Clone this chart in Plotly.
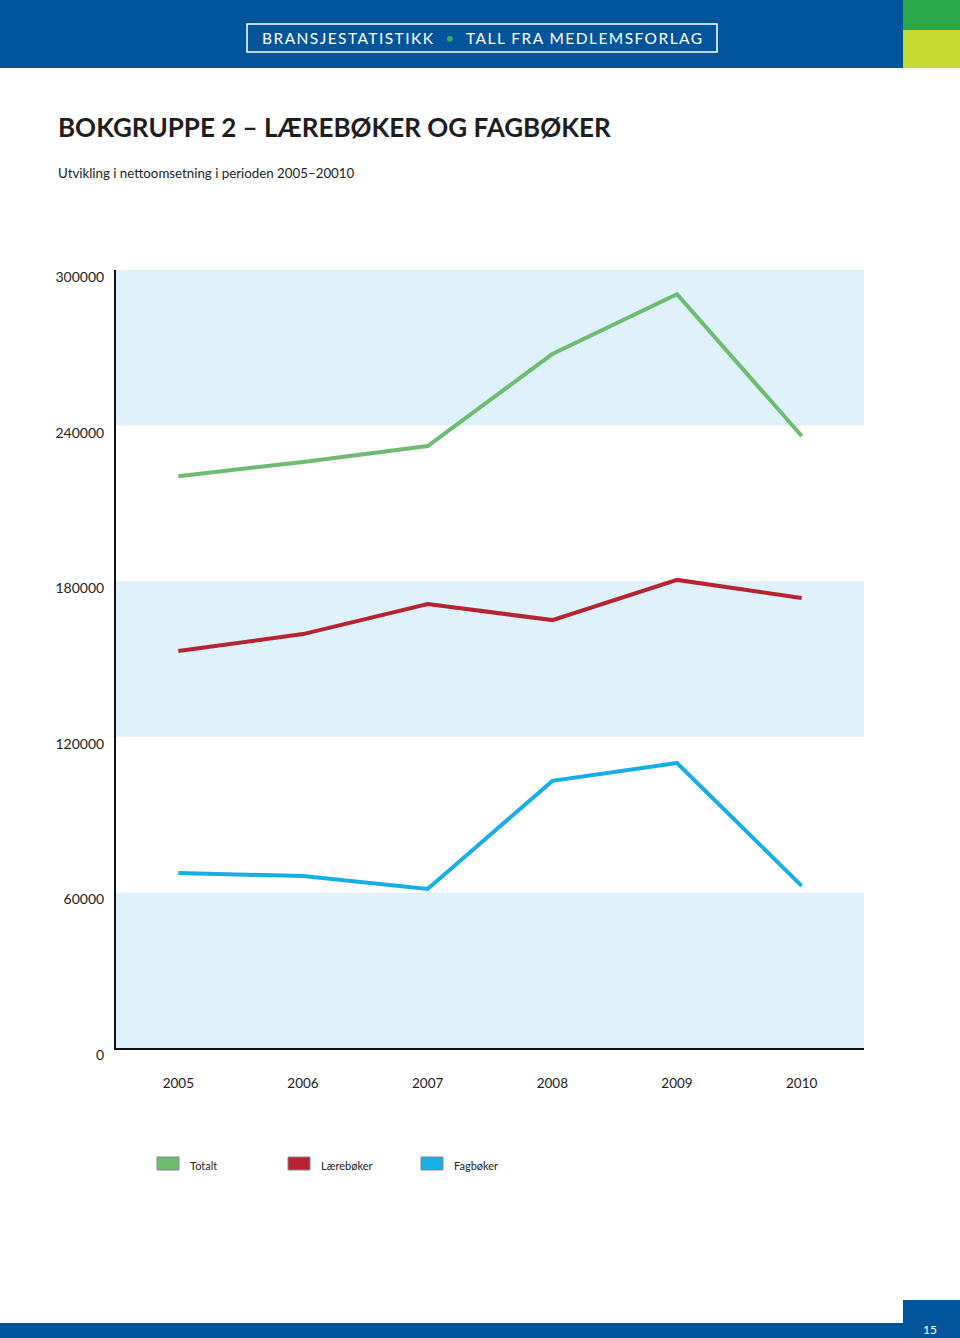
import plotly.graph_objects as go

years = ["2005", "2006", "2007", "2008", "2009", "2010"]
totalt = [220500, 226000, 232100, 267600, 290700, 236000]
laereboker = [153100, 159600, 171200, 165000, 180500, 173500]
fagboker = [67500, 66300, 61300, 103000, 109900, 62500]
series_names = ["Totalt", "Lærebøker", "Fagbøker"]
series_colors = ["#6cbd70", "#b8232f", "#16aee6"]
y_ticks = [0, 60000, 120000, 180000, 240000, 300000]

W, H = 960, 1338
L, R, T, B = 116, 96, 270, 290
FONT = "Lato"

fig = go.Figure()
for name, vals, col in zip(series_names, [totalt, laereboker, fagboker], series_colors):
    fig.add_trace(go.Scatter(x=years, y=vals, mode="lines", name=name,
                             line=dict(color=col, width=4), showlegend=False))

shapes = []
# alternating bands
for i in range(0, len(y_ticks) - 1, 2):
    shapes.append(dict(type="rect", xref="paper", yref="y", x0=0, x1=1,
                       y0=y_ticks[i], y1=y_ticks[i + 1], fillcolor="#dff1fb",
                       line=dict(width=0), layer="below"))

def px(xp):
    return (xp - L) / (W - L - R)

def py(yp):
    return (H - B - yp) / (H - T - B)

# header
shapes.append(dict(type="rect", xref="paper", yref="paper", x0=px(0), x1=px(960), y0=py(68), y1=py(0),
                   fillcolor="#02559b", line=dict(width=0), layer="below"))
shapes.append(dict(type="rect", xref="paper", yref="paper", x0=px(903), x1=px(960), y0=py(30), y1=py(0),
                   fillcolor="#2aa84a", line=dict(width=0)))
shapes.append(dict(type="rect", xref="paper", yref="paper", x0=px(903), x1=px(960), y0=py(68), y1=py(30),
                   fillcolor="#c4d932", line=dict(width=0)))
shapes.append(dict(type="rect", xref="paper", yref="paper", x0=px(247), x1=px(717), y0=py(52), y1=py(24),
                   fillcolor="rgba(0,0,0,0)", line=dict(width=1.5, color="white")))
# footer
shapes.append(dict(type="rect", xref="paper", yref="paper", x0=px(0), x1=px(960), y0=py(1338), y1=py(1323),
                   fillcolor="#02559b", line=dict(width=0)))
shapes.append(dict(type="rect", xref="paper", yref="paper", x0=px(903), x1=px(960), y0=py(1338), y1=py(1300),
                   fillcolor="#02559b", line=dict(width=0)))

annotations = [
    dict(text="<span style='letter-spacing:1.45px'>BRANSJESTATISTIKK  <span style='color:#2db34a'>•</span>  TALL FRA MEDLEMSFORLAG</span>",
         xref="paper", yref="paper", x=px(482), y=py(38), xanchor="center", yanchor="middle",
         showarrow=False, font=dict(family=FONT, size=15.5, color="white")),
    dict(text="<b>BOKGRUPPE 2 – LÆREBØKER OG FAGBØKER</b>", xref="paper", yref="paper",
         x=px(56), y=py(127), xanchor="left", yanchor="middle", showarrow=False,
         font=dict(family=FONT, size=26, color="#1e1e1e")),
    dict(text="Utvikling i nettoomsetning i perioden 2005–20010", xref="paper", yref="paper",
         x=px(56), y=py(173), xanchor="left", yanchor="middle", showarrow=False,
         font=dict(family=FONT, size=13.3, color="#222222")),
    dict(text="15", xref="paper", yref="paper", x=px(930), y=py(1329), xanchor="center", yanchor="middle",
         showarrow=False, font=dict(family=FONT, size=12, color="white")),
]

# legend
leg_x = [157, 288, 421]
for name, col, lx in zip(series_names, series_colors, leg_x):
    shapes.append(dict(type="rect", xref="paper", yref="paper", x0=px(lx), x1=px(lx + 22),
                       y0=py(1170), y1=py(1157), fillcolor=col, line=dict(width=1, color="#888888")))
    annotations.append(dict(text=name, xref="paper", yref="paper", x=px(lx + 31), y=py(1165),
                            xanchor="left", yanchor="middle", showarrow=False,
                            font=dict(family=FONT, size=11, color="#222222")))

fig.update_layout(
    width=W, height=H, margin=dict(l=L, r=R, t=T, b=B, autoexpand=False),
    paper_bgcolor="white", plot_bgcolor="white",
    shapes=shapes, annotations=annotations, showlegend=False,
    xaxis=dict(type="category", range=[-0.5, 5.5], showgrid=False, zeroline=False,
               showline=True, linecolor="#111111", linewidth=2, ticks="",
               tickfont=dict(family=FONT, size=13.5, color="#222222"), ticklabelstandoff=22),
    yaxis=dict(range=[0, 300000], tickvals=y_ticks, ticktext=[str(v) for v in y_ticks],
               showgrid=False, zeroline=False, showline=True, linecolor="#111111", linewidth=2,
               ticks="", ticklabelstandoff=7, ticklabelshift=7,
               tickfont=dict(family=FONT, size=14, color="#222222")),
)

fig.write_html("out.html", config={"displayModeBar": False},
               post_script="document.body.style.margin='0';document.body.style.overflow='hidden';")
